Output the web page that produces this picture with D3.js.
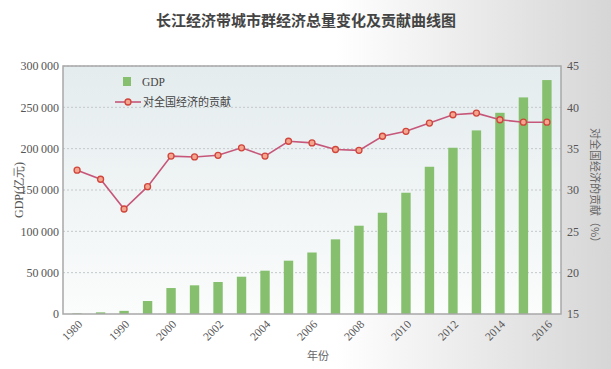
<!DOCTYPE html>
<html><head><meta charset="utf-8">
<script src="https://cdn.jsdelivr.net/npm/d3@7"></script>
<style>body{margin:0;} svg{display:block;}</style>
</head><body>
<svg id="c" width="611" height="369"></svg>
<script>
const years = ["1980","1985","1990","1995","2000","2001","2002","2003","2004","2005","2006","2007","2008","2009","2010","2011","2012","2013","2014","2015","2016"];
const gdp = [800,2000,3800,15700,31400,34700,38700,45100,52400,64500,74400,90300,106800,122500,146700,178100,201100,222100,243400,262000,283000];
const share = [32.4,31.3,27.7,30.4,34.1,34.0,34.2,35.1,34.1,35.9,35.7,34.9,34.8,36.5,37.1,38.1,39.1,39.3,38.5,38.2,38.2];
const leftTicks = [0,50000,100000,150000,200000,250000,300000];
const rightTicks = [15,20,25,30,35,40,45];
const labeledYears = ["1980","1990","2000","2002","2004","2006","2008","2010","2012","2014","2016"];

const svg = d3.select("#c");
const W=611,H=369;
const defs = svg.append("defs");
const pg = defs.append("linearGradient").attr("id","pg").attr("x1","0").attr("x2","1").attr("y1","0").attr("y2","0");
pg.append("stop").attr("offset","0").attr("stop-color","#ffffff");
pg.append("stop").attr("offset","0.55").attr("stop-color","#ffffff");
pg.append("stop").attr("offset","1").attr("stop-color","#d6d6d6");
const ag = defs.append("linearGradient").attr("id","ag").attr("x1","0").attr("x2","0").attr("y1","0").attr("y2","1");
ag.append("stop").attr("offset","0").attr("stop-color","#e4ecee");
ag.append("stop").attr("offset","1").attr("stop-color","#fbfcfc");
svg.append("rect").attr("width",W).attr("height",H).attr("fill","url(#pg)");

const L=63,R=561,T=66,B=314;
const x = d3.scaleBand().domain(years).range([L,R]).paddingOuter(0.4).paddingInner(0.6);
const yL = d3.scaleLinear().domain([0,300000]).range([B,T]);
const yR = d3.scaleLinear().domain([15,45]).range([B,T]);

svg.append("rect").attr("x",L).attr("y",T).attr("width",R-L).attr("height",B-T).attr("fill","url(#ag)");

// grid
svg.append("g").selectAll("line").data(leftTicks.filter(d=>d>0)).join("line")
  .attr("x1",L).attr("x2",R).attr("y1",d=>yL(d)).attr("y2",d=>yL(d))
  .attr("stroke","#c4c8ca").attr("stroke-width",1).attr("stroke-dasharray","2,2");

// bars
svg.append("g").selectAll("rect").data(years).join("rect")
  .attr("x",d=>x(d)).attr("width",x.bandwidth())
  .attr("y",(d,i)=>yL(gdp[i])).attr("height",(d,i)=>B-yL(gdp[i]))
  .attr("fill","#86c06e");

// border
svg.append("rect").attr("x",L).attr("y",T).attr("width",R-L).attr("height",B-T)
  .attr("fill","none").attr("stroke","#a8a8a8").attr("stroke-width",1.5);

// line
const cx = d=>x(d)+x.bandwidth()/2;
const line = d3.line().x((d,i)=>cx(years[i])).y(d=>yR(d));
svg.append("path").datum(share).attr("d",line).attr("fill","none").attr("stroke","#c6577a").attr("stroke-width",1.6);
svg.append("g").selectAll("circle").data(share).join("circle")
  .attr("cx",(d,i)=>cx(years[i])).attr("cy",d=>yR(d)).attr("r",3)
  .attr("fill","#f3a58e").attr("stroke","#d0453c").attr("stroke-width",1.3);

// axes
const serif = "'Liberation Serif','DejaVu Serif',serif";
const axL = d3.axisLeft(yL).tickValues(leftTicks).tickSize(0).tickPadding(4)
  .tickFormat(d=> d===0 ? "0" : d3.format(",")(d).replace(/,/g,"\u2009"));
const gL = svg.append("g").attr("transform",`translate(${L},0)`).call(axL);
gL.select(".domain").remove();
gL.selectAll("text").attr("font-family",serif).attr("font-size",12).attr("fill","#555");

const axR = d3.axisRight(yR).tickValues(rightTicks).tickSize(0).tickPadding(6);
const gR = svg.append("g").attr("transform",`translate(${R},0)`).call(axR);
gR.select(".domain").remove();
gR.selectAll("text").attr("font-family",serif).attr("font-size",12).attr("fill","#555");

const axX = d3.axisBottom(x).tickValues(labeledYears).tickSize(0).tickPadding(0);
const gX = svg.append("g").attr("transform",`translate(0,${B})`).call(axX);
gX.select(".domain").remove();
gX.selectAll("text").attr("font-family",serif).attr("font-size",11.5).attr("fill","#555")
  .attr("text-anchor","end").attr("dy",0).attr("y",0)
  .attr("transform","translate(6,11) rotate(-45)");

// titles
const sans = "'Noto Sans CJK SC','Noto Sans',sans-serif";
svg.append("text").attr("x",306).attr("y",26).attr("text-anchor","middle")
  .attr("font-family",sans).attr("font-size",15).attr("font-weight","bold").attr("fill","#444")
  .text("长江经济带城市群经济总量变化及贡献曲线图");
svg.append("text").attr("transform","translate(23,190) rotate(-90)").attr("text-anchor","middle")
  .attr("font-family",serif).attr("font-size",12).attr("fill","#555").text("GDP(亿元)");
svg.append("text").attr("transform","translate(591,188) rotate(90)").attr("text-anchor","middle")
  .attr("font-family",sans).attr("font-size",11).attr("fill","#666").text("对全国经济的贡献（%）");
svg.append("text").attr("x",318).attr("y",360).attr("text-anchor","middle")
  .attr("font-family",sans).attr("font-size",11).attr("fill","#666").text("年份");

// legend
svg.append("rect").attr("x",123).attr("y",77).attr("width",8).attr("height",9).attr("fill","#86c06e");
svg.append("text").attr("x",142).attr("y",85.5).attr("font-family",serif).attr("font-size",11.5).attr("fill","#444").text("GDP");
svg.append("line").attr("x1",115).attr("x2",141).attr("y1",102).attr("y2",102).attr("stroke","#c6577a").attr("stroke-width",1.6);
svg.append("circle").attr("cx",128).attr("cy",102).attr("r",3).attr("fill","#f3a58e").attr("stroke","#d0453c").attr("stroke-width",1.3);
svg.append("text").attr("x",143).attr("y",106).attr("font-family",sans).attr("font-size",11).attr("fill","#444").text("对全国经济的贡献");
</script>
</body></html>
